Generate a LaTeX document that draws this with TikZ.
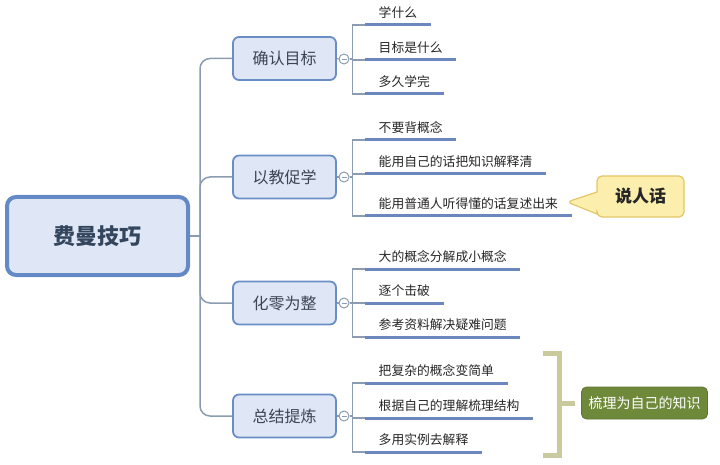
\documentclass[tikz,border=0pt]{standalone}
\usepackage{fontspec}
\setmainfont{Noto Sans CJK SC}
\usetikzlibrary{shapes.callouts}
\definecolor{boxfill}{HTML}{DFE6F5}
\definecolor{boxline}{HTML}{6B8DC6}
\definecolor{rootline}{HTML}{6489C4}
\definecolor{trunkc}{HTML}{8C9CB0}
\definecolor{ulinec}{HTML}{6C86BE}
\definecolor{txtc}{HTML}{262626}
\definecolor{l1txt}{HTML}{3A4555}
\definecolor{roottxt}{HTML}{34465E}
\definecolor{sayfill}{HTML}{FCEFAE}
\definecolor{sayline}{HTML}{E4C566}
\definecolor{brk}{HTML}{C9CA9D}
\definecolor{greenbox}{HTML}{6F893B}
\tikzset{
  rootbox/.style={draw=rootline, fill=boxfill, line width=4pt, rounded corners=9pt,
    minimum width=181pt, minimum height=78pt, inner sep=0pt, text=roottxt,
    font=\fontsize{22}{22}\selectfont\bfseries},
  lvone/.style={draw=boxline, fill=boxfill, line width=1.8pt, rounded corners=6pt,
    minimum width=103pt, minimum height=43pt, inner sep=0pt, text=l1txt,
    font=\fontsize{16}{16}\selectfont},
  fold/.style={circle, draw=trunkc, fill=white, line width=1pt, minimum size=10pt, inner sep=0pt,
    path picture={\draw[trunkc, line width=0.8pt] ([xshift=-2.5pt]path picture bounding box.center) -- ([xshift=2.5pt]path picture bounding box.center);}},
  leaf/.style={anchor=south west, inner xsep=13.5pt, inner ysep=5pt, text height=11pt, text depth=2pt,
    text=txtc, font=\fontsize{12.8}{13}\selectfont},
  uline/.style={draw=ulinec, line width=3pt},
  trunk/.style={draw=trunkc, line width=1.5pt, rounded corners=10pt},
  conn/.style={draw=trunkc, line width=1.2pt},
}
\begin{document}
\begin{tikzpicture}[x=1pt,y=-1pt]
\useasboundingbox (0,0) rectangle (720,465);
% root
\node[rootbox] (root) at (97.5,236) {费曼技巧};
% level one
\node[lvone] (b1) at (284.5,58.5) {确认目标};
\node[lvone] (b2) at (284.5,177) {以教促学};
\node[lvone] (b3) at (284.5,303) {化零为整};
\node[lvone] (b4) at (284.5,416) {总结提炼};
\coordinate (j) at (200,236);
\draw[trunkc, line width=1.5pt] (root.east) -- (j);
\foreach \b in {b1,b2,b3,b4} \draw[trunk] (j) |- (\b.west);
% fold circles
\node[fold] (c1) at (344,59) {};
\node[fold] (c2) at (344,177) {};
\node[fold] (c3) at (344,303) {};
\node[fold] (c4) at (344,416) {};
\foreach \i in {1,2,3,4} \draw[conn] (b\i.east) -- (c\i.west);
% leaves
\node[leaf] (a11) at (365,25) {学什么};
\node[leaf] (a12) at (365,60) {目标是什么};
\node[leaf] (a13) at (365,94) {多久学完};
\node[leaf] (a21) at (365,140) {不要背概念};
\node[leaf] (a22) at (365,174) {能用自己的话把知识解释清};
\node[leaf] (a23) at (365,216) {能用普通人听得懂的话复述出来};
\node[leaf] (a31) at (365,269) {大的概念分解成小概念};
\node[leaf] (a32) at (365,303) {逐个击破};
\node[leaf] (a33) at (365,337) {参考资料解决疑难问题};
\node[leaf] (a41) at (365,383) {把复杂的概念变简单};
\node[leaf] (a42) at (365,418) {根据自己的理解梳理结构};
\node[leaf] (a43) at (365,452) {多用实例去解释};
\foreach \i in {1,2,3,4} {
  \foreach \k in {1,2,3} {
    \draw[conn] (c\i.east) -- ([xshift=3pt]c\i.east) |- (a\i\k.south west);
  }
}
\foreach \i in {1,2,3,4} {
  \foreach \k in {1,2,3} {
    \draw[uline] (a\i\k.south west) -- (a\i\k.south east);
  }
}
% callout
\node[rectangle callout, draw=sayline, fill=sayfill, line width=1.2pt, rounded corners=5pt,
  minimum width=87pt, minimum height=41pt, inner sep=0pt,
  callout absolute pointer={(567,202)}, callout pointer width=22pt,
  text=txtc, font=\fontsize{17}{17}\selectfont\bfseries] (say) at (640.5,196.5) {说人话};
% bracket and summary
\draw[brk, line width=5pt] (543,353) -- (559,353) -- (559,455) -- (543,455);
\draw[brk, line width=5pt] (559,403) -- (575,403);
\node[draw=greenbox!85!black, fill=greenbox, line width=0.8pt, rounded corners=5pt,
  minimum width=126pt, minimum height=32pt, inner sep=0pt, text=white,
  font=\fontsize{14}{14}\selectfont] (sum) at (644.5,403) {梳理为自己的知识};
\end{tikzpicture}
\end{document}
